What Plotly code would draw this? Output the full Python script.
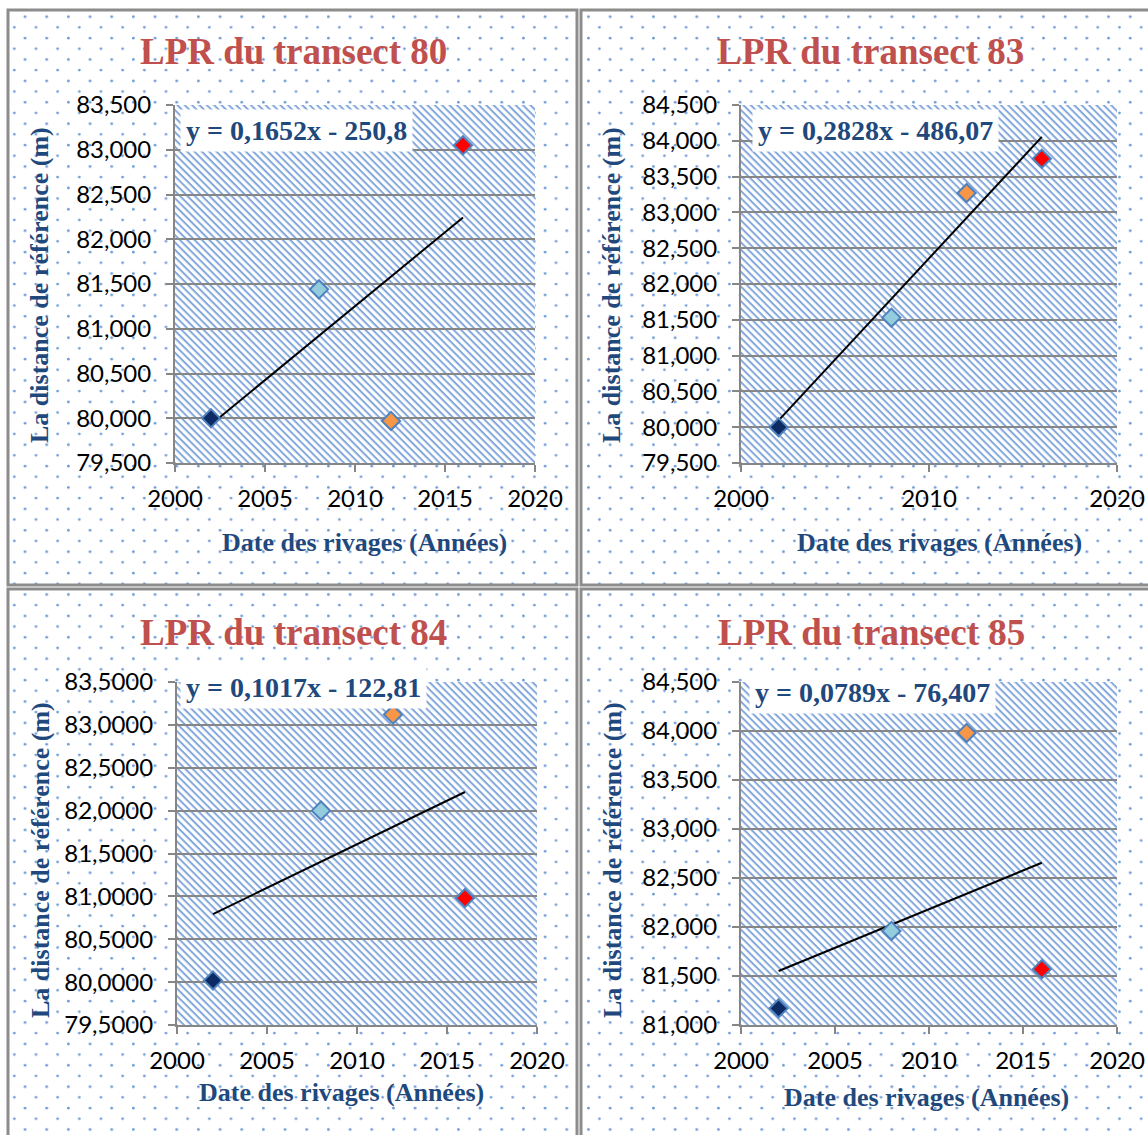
import base64
import plotly.graph_objects as go

# ---- data -------------------------------------------------------------
years = [2002, 2008, 2012, 2016]
point_colors = ["#0c2a63", "#93cddd", "#f79646", "#ff0000"]

transects = ["80", "83", "84", "85"]
dist_80 = [80.00, 81.44, 79.97, 83.05]
dist_83 = [80.00, 81.53, 83.27, 83.75]
dist_84 = [80.02, 82.00, 83.12, 80.98]
dist_85 = [81.17, 81.96, 83.98, 81.57]

slopes = [0.1652, 0.2828, 0.1017, 0.0789]
intercepts = [-250.8, -486.07, -122.81, -76.407]
equation_labels = [
    "y = 0,1652x - 250,8",
    "y = 0,2828x - 486,07",
    "y = 0,1017x - 122,81",
    "y = 0,0789x - 76,407",
]

y_ranges = [[79.5, 83.5], [79.5, 84.5], [79.5, 83.5], [81.0, 84.5]]
y_formats = [".3f", ".3f", ".4f", ".3f"]
x_dticks = [5, 10, 5, 5]

# ---- page geometry (pixels) --------------------------------------------
W, H = 1148, 1135
# plot areas: left, right, top, bottom
plot_boxes = [(175, 535, 105, 463), (741, 1117, 105, 463),
              (177, 537, 682, 1025), (741, 1117, 682, 1025)]
# panel frames
panels = [(8, 10, 577, 585), (581, 10, 1152, 585),
          (8, 589, 577, 1140), (581, 589, 1152, 1140)]
title_pos = [(293, 52), (870, 52), (293, 632), (871, 632)]
ytitle_pos = [(40, 285), (612, 285), (40, 860), (612, 860)]
xtitle_pos = [(364, 542), (939, 542), (341, 1092), (926, 1097)]
eq_pos = [(296, 130), (875, 130), (303, 687), (872, 692)]

TITLE_RED = "#c0504d"
NAVY = "#1f497d"
GRID = "#868686"
SERIF = "Liberation Serif"


def px_x(px):
    return px / W


def px_y(py):
    return 1 - py / H


def svg_uri(svg):
    return "data:image/svg+xml;base64," + base64.b64encode(svg.encode()).decode()


def dots_svg(w, h, ox, oy):
    return (
        f'<svg xmlns="http://www.w3.org/2000/svg" width="{w}" height="{h}" '
        f'viewBox="0 0 {w} {h}" preserveAspectRatio="none">'
        f'<defs><pattern id="d" width="21.67" height="21.4" patternUnits="userSpaceOnUse" '
        f'patternTransform="translate({-ox},{-oy})">'
        '<circle cx="3.33" cy="16.7" r="1.35" fill="#6a98d6"/>'
        '<circle cx="14.3" cy="5.9" r="1.35" fill="#6a98d6"/>'
        '</pattern></defs>'
        f'<rect width="{w}" height="{h}" fill="white"/>'
        f'<rect width="{w}" height="{h}" fill="url(#d)"/></svg>'
    )


def hatch_svg(w, h):
    return (
        f'<svg xmlns="http://www.w3.org/2000/svg" width="{w}" height="{h}" '
        f'viewBox="0 0 {w} {h}" preserveAspectRatio="none">'
        '<defs><pattern id="h" width="5.2" height="10" patternUnits="userSpaceOnUse" '
        'patternTransform="rotate(-45)">'
        '<rect width="5.2" height="10" fill="white"/>'
        '<rect x="0.6" width="2.0" height="10" fill="#84a8dc"/>'
        '</pattern></defs>'
        f'<rect width="{w}" height="{h}" fill="url(#h)"/></svg>'
    )


fig = go.Figure()
series = [dist_80, dist_83, dist_84, dist_85]
images, shapes, annotations = [], [], []

for i in range(4):
    sfx = "" if i == 0 else str(i + 1)
    xa, ya = "x" + sfx, "y" + sfx
    left, right, top, bottom = plot_boxes[i]

    # trend line drawn from the stated equation
    x_line = [min(years), max(years)]
    y_line = [slopes[i] * x + intercepts[i] for x in x_line]
    fig.add_trace(go.Scatter(
        x=x_line, y=y_line, mode="lines", xaxis=xa, yaxis=ya,
        line=dict(color="black", width=2), showlegend=False, hoverinfo="skip"))

    # observed distances
    fig.add_trace(go.Scatter(
        x=years, y=series[i], mode="markers", xaxis=xa, yaxis=ya,
        marker=dict(symbol="diamond", size=14, color=point_colors,
                    line=dict(color="#4f81bd", width=2)),
        showlegend=False))

    axis_common = dict(
        showline=True, linecolor=GRID, linewidth=2, ticks="outside",
        ticklen=7, tickwidth=2, tickcolor=GRID, zeroline=False, automargin=False,
        tickfont=dict(family="Lato", size=24, color="black"), fixedrange=True)
    fig.layout["xaxis" + sfx] = dict(
        axis_common, domain=[px_x(left), px_x(right)], anchor=ya,
        range=[2000, 2020], dtick=x_dticks[i], tick0=2000, showgrid=False,
        ticklabelstandoff=6)
    fig.layout["yaxis" + sfx] = dict(
        axis_common, domain=[px_y(bottom), px_y(top)], anchor=xa,
        range=y_ranges[i], dtick=0.5, tickformat=y_formats[i],
        showgrid=True, gridcolor=GRID, gridwidth=2, ticklabelstandoff=10)

    # dotted panel background
    p0x, p0y, p1x, p1y = panels[i]
    images.append(dict(
        source=svg_uri(dots_svg(p1x - p0x, p1y - p0y, p0x, p0y)),
        xref="paper", yref="paper", x=px_x(p0x), y=px_y(p0y),
        sizex=(p1x - p0x) / W, sizey=(p1y - p0y) / H,
        sizing="stretch", xanchor="left", yanchor="top", layer="below"))
    # hatched plot area
    images.append(dict(
        source=svg_uri(hatch_svg(right - left, bottom - top)),
        xref=xa + " domain", yref=ya + " domain", x=0, y=1, sizex=1, sizey=1,
        sizing="stretch", xanchor="left", yanchor="top", layer="below"))

    # panel frame
    shapes.append(dict(
        type="rect", xref="paper", yref="paper",
        x0=px_x(p0x), x1=px_x(p1x), y0=px_y(p1y), y1=px_y(p0y),
        line=dict(color="#8c8c8c", width=3), fillcolor="rgba(0,0,0,0)"))

    tx, ty = title_pos[i]
    annotations.append(dict(
        text="<b>LPR du transect %s</b>" % transects[i], xref="paper", yref="paper",
        x=px_x(tx), y=px_y(ty), showarrow=False, xanchor="center", yanchor="middle",
        font=dict(family=SERIF, size=37, color=TITLE_RED)))
    yx, yy = ytitle_pos[i]
    annotations.append(dict(
        text="<b>La distance de référence (m)</b>", xref="paper", yref="paper",
        x=px_x(yx), y=px_y(yy), textangle=-90, showarrow=False,
        xanchor="center", yanchor="middle",
        font=dict(family=SERIF, size=26, color=NAVY)))
    xx, xy = xtitle_pos[i]
    annotations.append(dict(
        text="<b>Date des rivages (Années)</b>", xref="paper", yref="paper",
        x=px_x(xx), y=px_y(xy), showarrow=False, xanchor="center", yanchor="middle",
        font=dict(family=SERIF, size=26, color=NAVY)))
    ex, ey = eq_pos[i]
    annotations.append(dict(
        text="<b>%s</b>" % equation_labels[i], xref="paper", yref="paper",
        x=px_x(ex), y=px_y(ey), showarrow=False, xanchor="center", yanchor="middle",
        bgcolor="white", borderpad=5,
        font=dict(family=SERIF, size=28, color=NAVY)))

fig.update_layout(
    width=W, height=H,
    margin=dict(l=0, r=0, t=0, b=0, pad=0, autoexpand=False),
    paper_bgcolor="white", plot_bgcolor="rgba(0,0,0,0)",
    separators=", ", images=images, shapes=shapes, annotations=annotations,
    showlegend=False)

fig.write_html("out.html")
